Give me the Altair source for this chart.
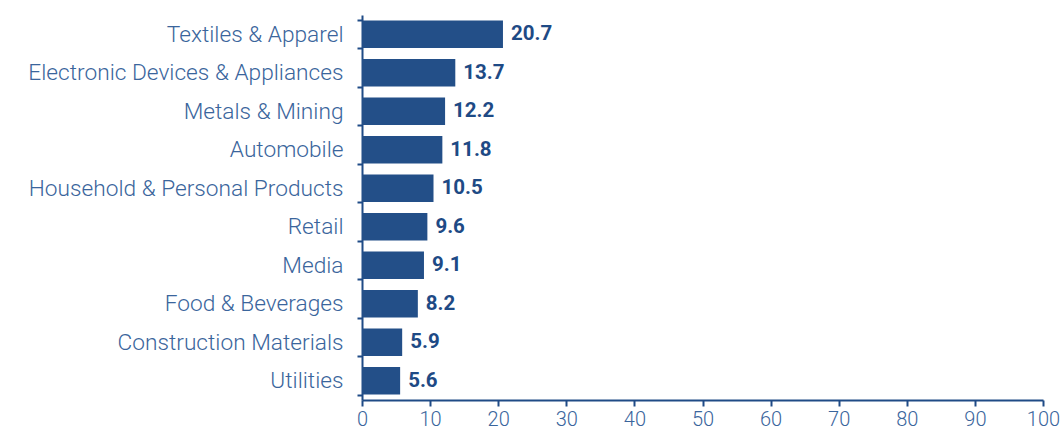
import altair as alt
import pandas as pd

categories = ["Textiles & Apparel", "Electronic Devices & Appliances", "Metals & Mining",
              "Automobile", "Household & Personal Products", "Retail", "Media",
              "Food & Beverages", "Construction Materials", "Utilities"]
values = [20.7, 13.7, 12.2, 11.8, 10.5, 9.6, 9.1, 8.2, 5.9, 5.6]
x_ticks = [0, 10, 20, 30, 40, 50, 60, 70, 80, 90, 100]

df = pd.DataFrame({"cat": categories, "val": values})
df["lbl"] = [f"{v:.1f}" for v in values]

BAR = "#234f88"
AX = "#1f4b86"
TXT = "#3a659c"

y = alt.Y("cat:N", sort=categories, title=None,
          scale=alt.Scale(paddingInner=0.28, paddingOuter=0.14),
          axis=alt.Axis(labelFont="Roboto", labelFontWeight=300, labelFontSize=22.7,
                        labelColor=TXT, labelPadding=14, tickBand="extent",
                        tickSize=5, tickColor=AX, domainColor=AX, domainWidth=2,
                        tickWidth=2, labelLimit=400))
x = alt.X("val:Q", title=None, scale=alt.Scale(domain=[0, 100], nice=False),
          axis=alt.Axis(values=x_ticks, grid=False, labelFont="Roboto", labelFontWeight=300,
                        labelFontSize=20, labelColor=TXT, labelPadding=3, tickSize=6,
                        labelFlush=False,
                        tickColor=AX, domainColor=AX, domainWidth=2, tickWidth=2))

bars = alt.Chart(df).mark_bar(color=BAR).encode(x=x, y=y)
text = alt.Chart(df).mark_text(align="left", baseline="middle", dx=8, font="Roboto",
                               fontWeight="bold", fontSize=20.5, color="#1e4a85").encode(
    x="val:Q", y=alt.Y("cat:N", sort=categories), text="lbl:N")

chart = (bars + text).properties(
    width=681, height=385,
    autosize=alt.AutoSizeParams(type="none"),
    padding={"left": 362, "top": 15, "right": 19, "bottom": 30},
).configure_view(stroke=None)

chart.save("out.html", embed_options={"renderer": "svg", "actions": False})
